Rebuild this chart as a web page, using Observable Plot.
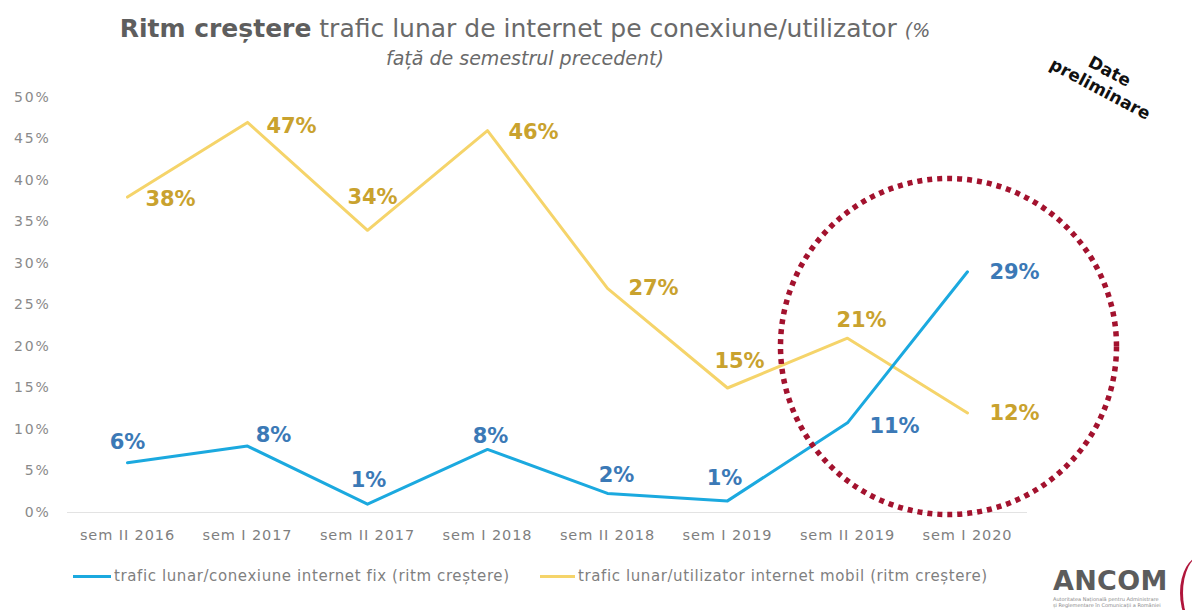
<!DOCTYPE html>
<html>
<head>
<meta charset="utf-8">
<script src="https://cdn.jsdelivr.net/npm/d3@7"></script>
<script src="https://cdn.jsdelivr.net/npm/@observablehq/plot@0.6"></script>
<style>
  html, body { margin: 0; padding: 0; background: #fff; }
  body { width: 1192px; height: 610px; position: relative; overflow: hidden; font-family: "DejaVu Sans", Verdana, sans-serif; }
  #title { position: absolute; left: 0; top: 15px; width: 1050px; text-align: center; color: #6a6a6a; font-size: 25px; line-height: 28px; }
  #title b { color: #5e5e5e; }
  #title i { font-size: 19px; }
  #subtitle { position: absolute; left: 0; top: 47px; width: 1050px; text-align: center; color: #6a6a6a; font-size: 19px; font-style: italic; }
  #prelim { position: absolute; left: 1035px; top: 60px; width: 140px; text-align: center; font-weight: bold; font-size: 17px; line-height: 20px; color: #111; transform: rotate(28deg); }
  #chart { position: absolute; left: 0; top: 80px; }
  #chart g[aria-label="y-axis tick label"] text { letter-spacing: 1.8px; }
  #chart g[aria-label="x-axis tick label"] text { letter-spacing: 0.9px; }
  #legend { position: absolute; top: 567px; left: 73px; font-size: 15px; letter-spacing: 0.6px; color: #7f7f7f; white-space: nowrap; }
  .li { position: absolute; top: 0; display: flex; align-items: center; }
  .sw { width: 38px; height: 3px; margin-right: 3px; }
  #logo { position: absolute; left: 1053px; top: 566px; width: 130px; }
  #logo .name { font-weight: bold; font-size: 27px; line-height: 30px; color: #5c5c5c; letter-spacing: 0.3px; }
  #logo .sub { font-size: 5px; color: #888; line-height: 6px; }
  #arc { position: absolute; left: 1180px; top: 556px; width: 40px; height: 74px; border-left: 3px solid #b0153b; border-radius: 50%; }
</style>
</head>
<body>
<div id="title"><b>Ritm creștere</b> trafic lunar de internet pe conexiune/utilizator <i>(%</i></div>
<div id="subtitle">față de semestrul precedent)</div>
<div id="prelim">Date<br>preliminare</div>
<div id="chart"></div>
<div id="legend">
  <div class="li" style="left:0px"><div class="sw" style="background:#1BA9DF"></div>trafic lunar/conexiune internet fix (ritm creștere)</div>
  <div class="li" style="left:467px"><div class="sw" style="background:#F5D46A;width:35px"></div>trafic lunar/utilizator internet mobil (ritm creștere)</div>
</div>
<div id="logo"><div class="name">ANCOM</div><div class="sub">Autoritatea Națională pentru Administrare<br>și Reglementare în Comunicații a României</div></div>
<div id="arc"></div>
<script>
const categories = ["sem II 2016", "sem I 2017", "sem II 2017", "sem I 2018", "sem II 2018", "sem I 2019", "sem II 2019", "sem I 2020"];
const fixValues = [6, 8, 1, 7.6, 2.3, 1.4, 10.8, 29];
const mobileValues = [38, 47, 34, 46, 27, 15, 21, 12];
const fixLabels = ["6%", "8%", "1%", "8%", "2%", "1%", "11%", "29%"];
const mobileLabels = ["38%", "47%", "34%", "46%", "27%", "15%", "21%", "12%"];
const yTicks = [0, 5, 10, 15, 20, 25, 30, 35, 40, 45, 50];
const highlightCategory = "sem I 2020";
const highlightValue = 20;

// label placement offsets (pixels) relative to each point
const mobileOffsets = [[43, 2], [44, 4], [5, -33], [46, 2], [46, 0], [12, -27], [14, -18], [47, 0]];
const fixOffsets = [[0, -20], [26, -11], [1, -24], [3, -13], [9, -18], [-3, -23], [47, 3], [47, 0]];

const rows = categories.map((c, i) => ({
  cat: c, fix: fixValues[i], mobile: mobileValues[i], fixLabel: fixLabels[i], mobileLabel: mobileLabels[i]
}));

const FONT = "'DejaVu Sans', Verdana, sans-serif";
const labelMarks = [];
rows.forEach((r, i) => {
  labelMarks.push(Plot.text([r], {x: "cat", y: "mobile", text: "mobileLabel", dx: mobileOffsets[i][0], dy: mobileOffsets[i][1],
    fill: "#C9A22E", fontSize: 21, fontWeight: "bold", fontFamily: FONT}));
  labelMarks.push(Plot.text([r], {x: "cat", y: "fix", text: "fixLabel", dx: fixOffsets[i][0], dy: fixOffsets[i][1],
    fill: "#3B79B6", fontSize: 21, fontWeight: "bold", fontFamily: FONT}));
});

const chart = Plot.plot({
  width: 1192,
  height: 470,
  marginTop: 17,
  marginBottom: 38,
  marginLeft: 67,
  marginRight: 165,
  style: {fontFamily: FONT, background: "transparent", overflow: "visible"},
  x: {type: "point", domain: categories, padding: 0.5},
  y: {domain: [0, 50]},
  marks: [
    Plot.axisY({ticks: yTicks, tickSize: 0, tickPadding: 17, tickFormat: d => d + "%", label: null, fill: "#8a8a8a", fontSize: 14, fontFamily: FONT}),
    Plot.axisX({tickSize: 0, tickPadding: 17, label: null, fill: "#7f7f7f", fontSize: 14.5, fontFamily: FONT}),
    Plot.ruleY([0], {stroke: "#e3e3e3", strokeWidth: 1}),
    Plot.line(rows, {x: "cat", y: "mobile", stroke: "#F5D46A", strokeWidth: 3}),
    Plot.line(rows, {x: "cat", y: "fix", stroke: "#1BA9DF", strokeWidth: 3}),
    Plot.dot([{cat: highlightCategory, v: highlightValue}], {x: "cat", y: "v", r: 168, dx: -19, fill: "none",
      stroke: "#A3122E", strokeWidth: 5.5, strokeDasharray: "5 5"}),
    ...labelMarks
  ]
});
document.getElementById("chart").appendChild(chart);
</script>
</body>
</html>
